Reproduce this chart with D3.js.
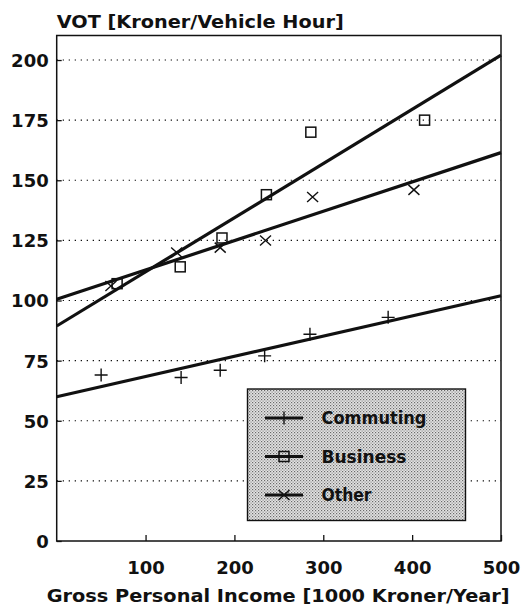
<!DOCTYPE html>
<html>
<head>
<meta charset="utf-8">
<script src="https://cdn.jsdelivr.net/npm/d3@7"></script>
<style>
  html, body { margin: 0; padding: 0; background: #fff; }
  svg { display: block; }
  text { font-family: "DejaVu Sans", "Liberation Sans", Arial, sans-serif; font-weight: bold; fill: #111; }
</style>
</head>
<body>
<svg id="chart" width="525" height="607"></svg>
<script>
// Value of time by income group (Kroner per vehicle hour vs. gross income)
const commutingIncome = [50, 140, 184, 234, 285, 373];
const commutingVOT    = [69, 68, 71, 77, 86, 93];

const businessIncome  = [68, 139, 186, 236, 286, 414];
const businessVOT     = [107, 114, 126, 144, 170, 175];

const otherIncome     = [61, 135, 184, 235, 288, 402];
const otherVOT        = [106, 120, 122, 125, 143, 146];

// Fitted lines: VOT at income 0 and at income 500
const trendIncome     = [0, 500];
const commutingTrend  = [60, 102];
const businessTrend   = [89.4, 202];
const otherTrend      = [100.5, 161.5];

const xTickValues = [100, 200, 300, 400, 500];
const yTickValues = [0, 25, 50, 75, 100, 125, 150, 175, 200];
const gridValues  = [25, 50, 75, 100, 125, 150, 175, 200];

const seriesNames = ["Commuting", "Business", "Other"];

const svg = d3.select("#chart");
const plotLeft = 56.7, plotRight = 501, plotTop = 35.5, plotBottom = 541;

const x = d3.scaleLinear().domain([0, 500]).range([plotLeft, plotRight]);
const y = d3.scaleLinear().domain([0, 210.2]).range([plotBottom, plotTop]);

const ink = "#111";

// stippled legend fill
const defs = svg.append("defs");
const pat = defs.append("pattern")
  .attr("id", "stipple").attr("patternUnits", "userSpaceOnUse")
  .attr("width", 3).attr("height", 3);
pat.append("rect").attr("width", 3).attr("height", 3).attr("fill", "#e4e4e4");
pat.append("rect").attr("x", 0).attr("y", 0).attr("width", 1.2).attr("height", 1.2).attr("fill", "#6a6a6a");
pat.append("rect").attr("x", 1.5).attr("y", 1.5).attr("width", 1.2).attr("height", 1.2).attr("fill", "#8a8a8a");

// dotted grid
svg.append("g").selectAll("line").data(gridValues).join("line")
  .attr("x1", plotLeft).attr("x2", plotRight)
  .attr("y1", d => y(d)).attr("y2", d => y(d))
  .attr("stroke", ink).attr("stroke-width", 1.1)
  .attr("stroke-dasharray", "1.3,4.7");

// frame
svg.append("rect").attr("x", plotLeft).attr("y", plotTop)
  .attr("width", plotRight - plotLeft).attr("height", plotBottom - plotTop)
  .attr("fill", "none").attr("stroke", ink).attr("stroke-width", 1.5);

// y axis: inward ticks + labels
const yAxis = d3.axisLeft(y).tickValues(yTickValues).tickSizeInner(-5).tickSizeOuter(0).tickPadding(8);
const gy = svg.append("g").attr("transform", `translate(${plotLeft},0)`).call(yAxis);
gy.select(".domain").remove();
gy.selectAll(".tick line").attr("stroke", ink).attr("stroke-width", 1.3);
gy.selectAll(".tick text").style("font-size", "18px").attr("fill", ink).attr("dy", "0.36em");

// x axis: inward ticks + labels
const xAxis = d3.axisBottom(x).tickValues(xTickValues).tickSizeInner(-6).tickSizeOuter(0).tickPadding(20);
const gx = svg.append("g").attr("transform", `translate(0,${plotBottom})`).call(xAxis);
gx.select(".domain").remove();
gx.selectAll(".tick line").attr("stroke", ink).attr("stroke-width", 1.3);
gx.selectAll(".tick text").style("font-size", "18px").attr("fill", ink).attr("dy", "0.71em");

// titles
svg.append("text").attr("x", plotLeft).attr("y", 27.5)
  .attr("textLength", 287).attr("lengthAdjust", "spacingAndGlyphs")
  .style("font-size", "18.5px").text("VOT [Kroner/Vehicle Hour]");
svg.append("text").attr("x", 46.7).attr("y", 602)
  .attr("textLength", 463).attr("lengthAdjust", "spacingAndGlyphs")
  .style("font-size", "18.5px").text("Gross Personal Income [1000 Kroner/Year]");

// marker shapes
function drawMarker(g, kind, cx, cy) {
  if (kind === "Commuting") {
    g.append("path").attr("d", `M${cx - 6.5},${cy}H${cx + 6.5}M${cx},${cy - 6.5}V${cy + 6.5}`)
      .attr("stroke", ink).attr("stroke-width", 1.4).attr("fill", "none");
  } else if (kind === "Business") {
    g.append("rect").attr("x", cx - 5).attr("y", cy - 5).attr("width", 10).attr("height", 10)
      .attr("stroke", ink).attr("stroke-width", 1.5).attr("fill", "none");
  } else {
    g.append("path").attr("d", `M${cx - 5.5},${cy - 5}L${cx + 5.5},${cy + 5}M${cx - 5.5},${cy + 5}L${cx + 5.5},${cy - 5}`)
      .attr("stroke", ink).attr("stroke-width", 1.4).attr("fill", "none");
  }
}

const series = [
  { name: "Commuting", xs: commutingIncome, ys: commutingVOT, trend: commutingTrend },
  { name: "Business",  xs: businessIncome,  ys: businessVOT,  trend: businessTrend },
  { name: "Other",     xs: otherIncome,     ys: otherVOT,     trend: otherTrend }
];

const line = d3.line().x(d => x(d[0])).y(d => y(d[1]));
const plot = svg.append("g");
series.forEach(s => {
  plot.append("path")
    .attr("d", line(trendIncome.map((v, i) => [v, s.trend[i]])))
    .attr("stroke", ink).attr("stroke-width", 3.2).attr("fill", "none");
  const mg = plot.append("g");
  s.xs.forEach((v, i) => drawMarker(mg, s.name, x(v), y(s.ys[i])));
});

// legend
const lg = svg.append("g");
lg.append("rect").attr("x", 247.5).attr("y", 389).attr("width", 218).attr("height", 131.5)
  .attr("fill", "url(#stipple)").attr("stroke", ink).attr("stroke-width", 1.4);
const legendWidths = [105, 85, 50];
seriesNames.forEach((name, i) => {
  const cy = 418 + i * 38.5;
  lg.append("line").attr("x1", 265).attr("x2", 303).attr("y1", cy).attr("y2", cy)
    .attr("stroke", ink).attr("stroke-width", 3);
  drawMarker(lg, name, 284, cy);
  lg.append("text").attr("x", 321.5).attr("y", cy).attr("dy", "0.37em")
    .attr("textLength", legendWidths[i]).attr("lengthAdjust", "spacingAndGlyphs")
    .style("font-size", "17.5px").text(name);
});
</script>
</body>
</html>
